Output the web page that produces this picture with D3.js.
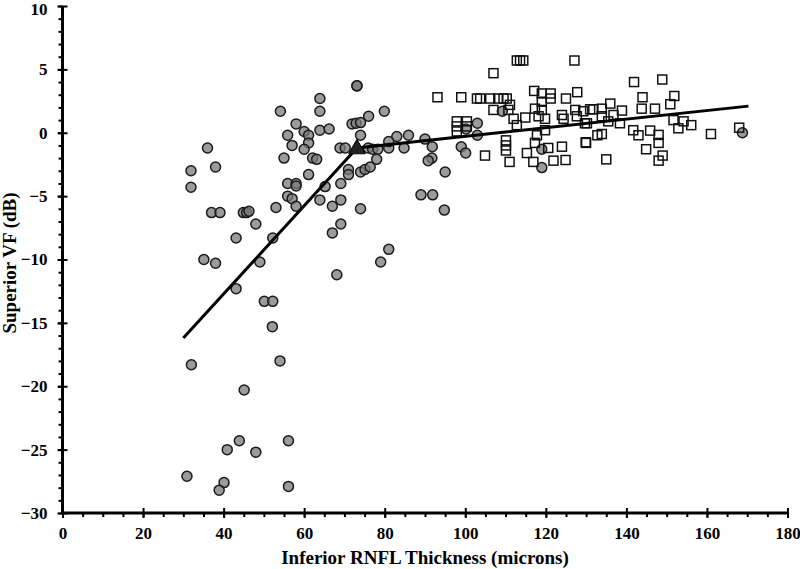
<!DOCTYPE html>
<html>
<head>
<meta charset="utf-8">
<script src="https://cdn.jsdelivr.net/npm/d3@7"></script>
<style>
  body { margin: 0; background: #fff; }
  svg { font-family: "Liberation Serif", "Times New Roman", serif; font-weight: bold; }
</style>
</head>
<body>
<svg id="chart" width="800" height="569"></svg>
<script>
// grey circles (thin RNFL group)
const circleX = [30.9, 32.0, 36.0, 31.9, 38.0, 31.9, 73.1, 73.1, 63.9, 54.1, 63.9, 79.9, 76.0, 58.0,
  71.9, 72.9, 74.0, 63.9, 66.2, 60.0, 55.9, 61.1, 74.0, 83.0, 61.1, 57.0, 60.0, 68.9, 70.2,
  75.9, 77.0, 78.3, 81.0, 81.0, 62.1, 63.1, 55.0, 78.0, 71.0, 71.0, 74.0, 75.1, 76.4, 61.1,
  55.9, 58.0, 58.0, 55.9, 57.0, 58.0, 65.2, 69.1, 63.9, 69.1, 67.0, 74.0, 53.0, 37.0, 39.1,
  44.9, 45.7, 46.3, 48.0, 69.1, 67.0, 43.1, 52.2, 81.0, 35.1, 38.0, 49.0, 79.0, 68.1, 43.1,
  50.1, 52.2, 52.1, 54.0, 45.1, 43.9, 40.9, 48.0, 56.1, 40.1, 38.9, 56.1, 85.9, 84.8,
  90.0, 91.8, 91.7, 90.8, 95.0, 89.0, 91.9, 94.8, 99.0, 100.1, 100.2, 103.0, 103.0, 109.2,
  119.0, 119.0, 168.8];
const circleY = [-27.1, -18.3, -1.2, -3.0, -2.7, -4.3, 3.7, 3.7, 2.7, 1.7, 1.7, 1.7, 1.3, 0.7,
  0.7, 0.75, 0.8, 0.2, 0.3, 0.1, -0.2, -0.2, -0.2, -0.3, -0.8, -1.0, -1.3, -1.2, -1.2,
  -1.2, -1.3, -1.3, -1.2, -0.7, -2.0, -2.1, -2.0, -2.1, -2.9, -3.3, -3.1, -2.9, -2.7, -3.3,
  -4.0, -4.0, -4.2, -5.0, -5.2, -5.8, -4.25, -4.0, -5.3, -5.3, -5.8, -6.0, -5.9, -6.3, -6.3,
  -6.3, -6.3, -6.2, -7.2, -7.2, -7.9, -8.3, -8.3, -9.2, -10.0, -10.3, -10.2, -10.2, -11.2, -12.3,
  -13.3, -13.3, -15.3, -18.0, -20.3, -24.3, -25.0, -25.2, -24.3, -27.6, -28.2, -27.9, -0.2, -1.2,
  -0.5, -1.1, -2.0, -2.2, -3.1, -4.9, -4.9, -6.1, -1.1, -1.6, 0.3, 0.75, -0.2, 1.7,
  -1.3, -2.75, 0.0];

// open squares (thick RNFL group)
const squareX = [107.0, 112.8, 113.6, 114.4, 127.1, 93.1, 99.0, 102.9, 103.7, 106.2, 108.2, 109.5,
  110.3, 117.1, 119.0, 121.2, 121.2, 119.0, 127.8, 125.0, 107.0, 111.1, 110.7, 112.0, 114.9,
  112.8, 117.3, 119.0, 118.2, 119.8, 119.8, 124.0, 124.4, 127.3, 127.7, 129.3, 131.0, 131.8,
  130.2, 132.8, 129.9, 120.6, 124.0, 117.8, 117.3, 115.3, 116.9, 110.1, 110.1, 110.1, 104.9,
  111.0, 121.9, 124.9, 97.9, 97.9, 97.9, 100.4, 100.4,
  141.9, 148.9, 144.0, 151.9, 150.9, 143.8, 147.1, 136.0, 133.9, 138.9, 136.8, 133.9, 135.5,
  138.4, 129.7, 151.7, 154.2, 152.9, 156.1, 141.7, 145.9, 143.0, 148.0, 148.0, 133.9, 130.0,
  161.0, 168.0, 144.9, 135.0, 149.0, 148.0];
const squareY = [4.7, 5.7, 5.7, 5.7, 5.7, 2.8, 2.8, 2.7, 2.7, 2.7, 2.7, 2.7,
  2.7, 3.3, 3.1, 3.1, 2.7, 2.45, 3.2, 2.7, 1.8, 2.2, 1.8, 1.1, 1.2,
  0.6, 1.9, 1.8, 1.3, 1.1, 0.2, 1.4, 1.1, 1.8, 1.3, 1.7, 1.85, 1.85,
  0.75, -0.2, -0.75, -1.2, -1.1, -0.2, -0.8, -1.6, -2.3, -0.6, -1.0, -1.4, -1.8,
  -2.3, -2.2, -2.15, 0.9, 0.5, 0.1, 0.9, 0.5,
  4.0, 4.2, 2.8, 2.9, 2.25, 1.9, 1.9, 2.3, 1.9, 1.75, 1.4, 1.3, 0.9,
  0.75, 0.75, 1.0, 0.9, 0.35, 0.6, 0.2, 0.17, -0.2, -0.17, -0.8, -0.1, -0.8,
  -0.1, 0.4, -1.3, -2.1, -1.8, -2.2];

// broken-stick fit and breakpoint
const fitX = [30.0, 73.1, 170.3];
const fitY = [-16.2, -1.2, 2.1];
const breakX = [73.1];
const breakY = [-1.2];

const xTicks = [0, 20, 40, 60, 80, 100, 120, 140, 160, 180];
const yTicks = [10, 5, 0, -5, -10, -15, -20, -25, -30];

const svg = d3.select('#chart');
const plotLeft = 62.5, plotRight = 787.5, plotTop = 6, plotBottom = 513;

const x = d3.scaleLinear().domain([0, 180]).range([plotLeft, plotRight]);
const y = d3.scaleLinear().domain([-30, 10]).range([plotBottom, plotTop]);

// minor ticks
const xMinor = d3.axisBottom(x).tickValues(d3.range(0, 181, 5)).tickSize(4).tickFormat('');
svg.append('g')
  .attr('transform', `translate(0, ${plotBottom})`)
  .call(xMinor)
  .call(g => g.select('.domain').remove())
  .selectAll('line').attr('stroke', '#000').attr('stroke-width', 2);

const yMinor = d3.axisLeft(y).tickValues(d3.range(-30, 11, 1)).tickSize(4).tickFormat('');
svg.append('g')
  .attr('transform', `translate(${plotLeft}, 0)`)
  .call(yMinor)
  .call(g => g.select('.domain').remove())
  .selectAll('line').attr('stroke', '#000').attr('stroke-width', 2);

// major axes
const xAxis = d3.axisBottom(x).tickValues(xTicks).tickSize(5).tickPadding(9);
const gx = svg.append('g')
  .attr('transform', `translate(0, ${plotBottom})`)
  .call(xAxis);
gx.select('.domain').attr('stroke', '#000').attr('stroke-width', 3).attr('d', `M${plotLeft},0H${plotRight}`);
gx.selectAll('.tick line').attr('y1', -5).attr('stroke', '#000').attr('stroke-width', 2);
gx.selectAll('.tick text')
  .attr('fill', '#000')
  .style('font-size', '17px')
  .style('font-weight', 'bold')
  .style('font-family', '"Liberation Serif", serif');

const yAxis = d3.axisLeft(y).tickValues(yTicks).tickSize(5).tickPadding(10);
const gy = svg.append('g')
  .attr('transform', `translate(${plotLeft}, 0)`)
  .call(yAxis);
gy.select('.domain').attr('stroke', '#000').attr('stroke-width', 3).attr('d', `M0,${plotTop}V${plotBottom}`);
gy.selectAll('.tick line').attr('x1', 5).attr('stroke', '#000').attr('stroke-width', 2);
gy.selectAll('.tick text')
  .attr('fill', '#000')
  .style('font-size', '17px')
  .style('font-weight', 'bold')
  .style('font-family', '"Liberation Serif", serif');
// keep the top label inside the picture
gy.selectAll('.tick text').filter(d => d === 10).attr('dy', '0.5em');

// axis titles
svg.append('text')
  .attr('x', (plotLeft + plotRight) / 2)
  .attr('y', 564)
  .attr('text-anchor', 'middle')
  .style('font-size', '19px')
  .text('Inferior RNFL Thickness (microns)');

svg.append('text')
  .attr('transform', 'translate(16, 263) rotate(-90)')
  .attr('text-anchor', 'middle')
  .style('font-size', '19px')
  .text('Superior VF (dB)');

// points
const circles = circleX.map((d, i) => ({ x: d, y: circleY[i] }));
const squares = squareX.map((d, i) => ({ x: d, y: squareY[i] }));

svg.append('g').selectAll('circle')
  .data(circles)
  .enter()
  .append('circle')
  .attr('cx', d => x(d.x))
  .attr('cy', d => y(d.y))
  .attr('r', 5)
  .attr('fill', '#7a7a7a')
  .attr('fill-opacity', 0.75)
  .attr('stroke', '#1a1a1a')
  .attr('stroke-width', 1.5);

const sq = 9;
svg.append('g').selectAll('rect')
  .data(squares)
  .enter()
  .append('rect')
  .attr('x', d => x(d.x) - sq / 2)
  .attr('y', d => y(d.y) - sq / 2)
  .attr('width', sq)
  .attr('height', sq)
  .attr('fill', 'none')
  .attr('stroke', '#111')
  .attr('stroke-width', 1.5);

// fit line
const line = d3.line().x(d => x(d[0])).y(d => y(d[1]));
svg.append('path')
  .datum(fitX.map((d, i) => [d, fitY[i]]))
  .attr('d', line)
  .attr('fill', 'none')
  .attr('stroke', '#000')
  .attr('stroke-width', 3);

svg.append('g').selectAll('path.bp')
  .data(breakX.map((d, i) => [d, breakY[i]]))
  .enter()
  .append('path')
  .attr('class', 'bp')
  .attr('transform', d => `translate(${x(d[0])}, ${y(d[1]) + 1})`)
  .attr('d', d3.symbol().type(d3.symbolTriangle).size(120))
  .attr('fill', '#222')
  .attr('stroke', '#000')
  .attr('stroke-width', 1);
</script>
</body>
</html>
